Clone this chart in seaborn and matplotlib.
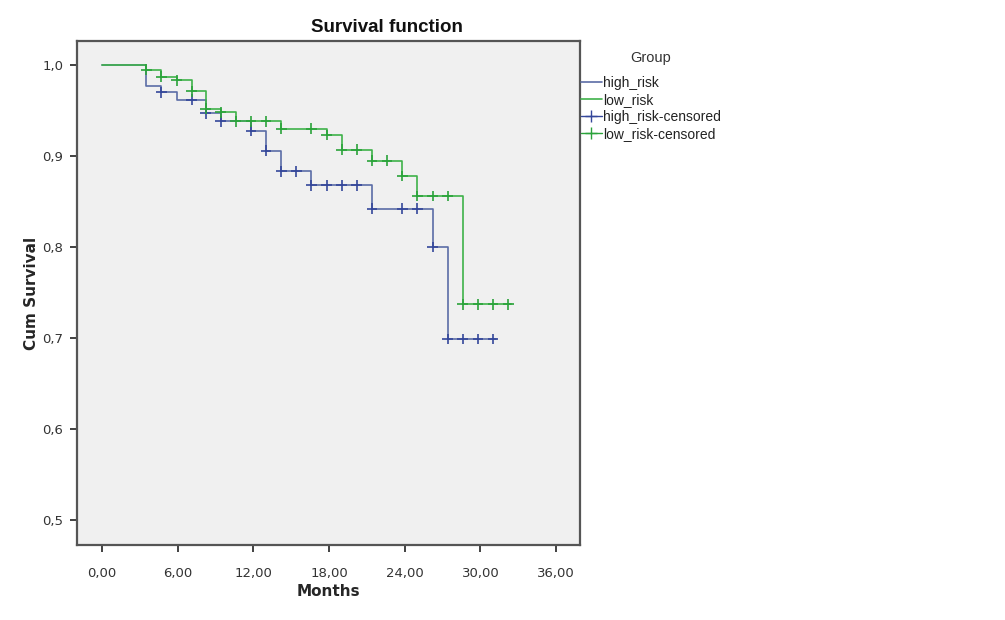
import numpy as np
import pandas as pd
import matplotlib
matplotlib.use('Agg')
import matplotlib.pyplot as plt
from matplotlib.lines import Line2D
import seaborn as sns

# Kaplan-Meier steps (months, cumulative survival)
high_event_t = [3.5, 4.7, 5.9, 8.2, 9.4, 11.8, 13.0, 14.2, 16.6, 21.4, 26.2, 27.4]
high_event_s = [0.977, 0.970, 0.962, 0.947, 0.938, 0.928, 0.906, 0.883, 0.868, 0.842, 0.800, 0.699]
high_end = 31.2
high_censor_t = [4.7, 7.1, 8.2, 9.4, 11.8, 13.0, 14.2, 15.4, 16.6, 17.8, 19.0, 20.2,
                 21.4, 23.8, 25.0, 26.2, 27.4, 28.6, 29.8, 31.0]

low_event_t = [3.5, 4.7, 5.9, 7.1, 8.2, 9.4, 10.6, 14.2, 17.8, 19.0, 21.4, 23.8, 25.0, 28.6]
low_event_s = [0.995, 0.987, 0.983, 0.971, 0.952, 0.948, 0.938, 0.930, 0.923, 0.907,
               0.895, 0.878, 0.856, 0.737]
low_end = 32.4
low_censor_t = [3.5, 4.7, 5.9, 7.1, 8.2, 9.4, 10.6, 11.8, 13.0, 14.2, 16.6, 17.8, 19.0,
                20.2, 21.4, 22.6, 23.8, 25.0, 26.2, 27.4, 28.6, 29.8, 31.0, 32.2]

x_ticks = [0, 6, 12, 18, 24, 30, 36]
y_ticks = [0.5, 0.6, 0.7, 0.8, 0.9, 1.0]

HIGH_LINE = '#5b6ca6'
HIGH_CENS = '#34479a'
LOW_LINE = '#3fb24a'
LOW_CENS = '#2aa33a'


def step_frame(name, ev_t, ev_s, end):
    t = [0.0] + list(ev_t) + [end]
    s = [1.0] + list(ev_s) + [ev_s[-1]]
    return pd.DataFrame({'Months': t, 'Survival': s, 'Group': name})


def censor_frame(name, ev_t, ev_s, cens_t):
    ev_t = np.asarray(ev_t)
    ev_s = np.asarray(ev_s)
    vals = []
    for c in cens_t:
        idx = np.searchsorted(ev_t, c + 1e-9) - 1
        vals.append(1.0 if idx < 0 else ev_s[idx])
    return pd.DataFrame({'Months': cens_t, 'Survival': vals, 'Group': name})


steps = pd.concat([step_frame('high_risk', high_event_t, high_event_s, high_end),
                   step_frame('low_risk', low_event_t, low_event_s, low_end)])
cens = pd.concat([censor_frame('high_risk', high_event_t, high_event_s, high_censor_t),
                  censor_frame('low_risk', low_event_t, low_event_s, low_censor_t)])

sns.set_style('white')
plt.rcParams['font.family'] = ['DejaVu Sans']

W, H = 1005, 620
fig = plt.figure(figsize=(W / 100, H / 100), dpi=100)
# axes frame: left 77px, right 580px, top 41px, bottom 545px
ax = fig.add_axes([77 / W, 1 - 545 / H, 503 / W, 504 / H])
ax.set_facecolor('#f0f0f0')

sns.lineplot(data=steps, x='Months', y='Survival', hue='Group',
             palette={'high_risk': HIGH_LINE, 'low_risk': LOW_LINE},
             drawstyle='steps-post', estimator=None, sort=False,
             linewidth=1.2, legend=False, ax=ax)
sns.scatterplot(data=cens, x='Months', y='Survival', hue='Group',
                palette={'high_risk': HIGH_CENS, 'low_risk': LOW_CENS},
                marker='+', s=60, linewidth=1.2, legend=False, ax=ax, zorder=3)

ax.set_xlim(-2.0, 37.9)
ax.set_ylim(0.4725, 1.0264)
ax.set_xticks(x_ticks)
ax.set_xticklabels([f'{v:.2f}'.replace('.', ',') for v in x_ticks])
ax.set_yticks(y_ticks)
ax.set_yticklabels([f'{v:.1f}'.replace('.', ',') for v in y_ticks])
ax.tick_params(axis='both', direction='out', length=5, width=1.3,
               bottom=True, left=True, top=False, right=False,
               color='#333333', labelsize=9.5, labelcolor='#333333')
ax.tick_params(axis='x', pad=11)
ax.tick_params(axis='y', pad=5)

for sp in ax.spines.values():
    sp.set_visible(True)
    sp.set_color('#555555')
    sp.set_linewidth(1.6)

ax.set_xlabel('Months', fontsize=11, fontweight='bold', labelpad=3)
ax.set_ylabel('Cum Survival', fontsize=11, fontweight='bold', labelpad=2)
fig.text(387 / W, 1 - 28 / H, 'Survival function', ha='center', va='center',
         fontsize=13.5, fontweight='bold', family='Liberation Sans', color='#111111')

handles = [
    Line2D([], [], color=HIGH_LINE, lw=1.2, drawstyle='steps-post'),
    Line2D([], [], color=LOW_LINE, lw=1.2),
    Line2D([], [], color=HIGH_CENS, lw=1.0, marker='+', markersize=9),
    Line2D([], [], color=LOW_CENS, lw=1.0, marker='+', markersize=9),
]
labels = ['high_risk', 'low_risk', 'high_risk-censored', 'low_risk-censored']
fig.text(651 / W, 1 - 58 / H, 'Group', ha='center', va='center',
         fontsize=10.5, color='#333333', family='Liberation Sans')
leg = ax.legend(handles, labels, loc='upper left',
                bbox_to_anchor=(581 / W, 1 - 76 / H), bbox_transform=fig.transFigure,
                frameon=False, handlelength=1.5, handletextpad=0.1, labelspacing=0.22,
                borderaxespad=0, borderpad=0,
                prop={'family': 'Liberation Sans', 'size': 10})
for t in leg.get_texts():
    t.set_color('#222222')

fig.savefig('out.png', dpi=100, facecolor='white')
